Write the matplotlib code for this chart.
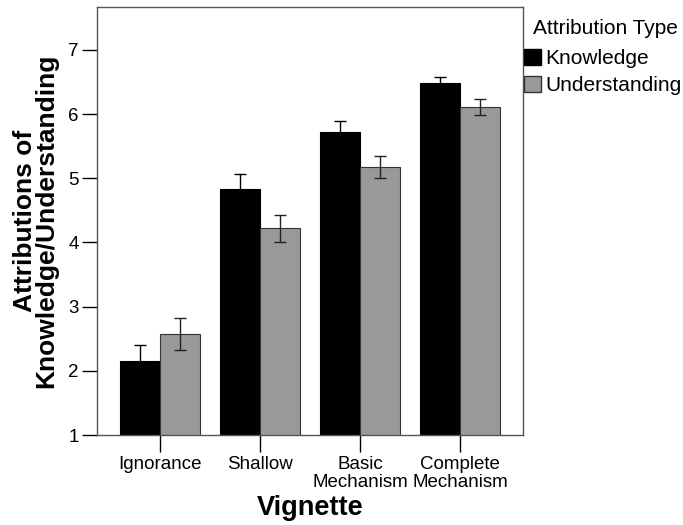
import numpy as np
import matplotlib.pyplot as plt
from matplotlib.patches import Patch

plt.rcParams['font.family'] = ['Liberation Sans', 'DejaVu Sans']

vignettes = ['Ignorance', 'Shallow', 'Basic\nMechanism', 'Complete\nMechanism']
knowledge = [2.16, 4.84, 5.72, 6.49]
knowledge_err = [0.24, 0.23, 0.18, 0.09]
understanding = [2.58, 4.22, 5.18, 6.11]
understanding_err = [0.25, 0.21, 0.17, 0.12]

fig = plt.figure(figsize=(6.83, 5.25), dpi=100)
ax = fig.add_axes([0.142, 0.1714, 0.624, 0.8153])

x = np.arange(len(vignettes))
w = 0.4
ax.bar(x - w / 2, knowledge, w, color='black', edgecolor='black',
       linewidth=0.8, yerr=knowledge_err, capsize=4,
       error_kw=dict(elinewidth=1.0, capthick=1.0, ecolor='black'), zorder=2)
ax.bar(x + w / 2, understanding, w, color='#999999', edgecolor='#333333',
       linewidth=0.8, yerr=understanding_err, capsize=4,
       error_kw=dict(elinewidth=1.0, capthick=1.0, ecolor='#222222'), zorder=2)

ax.set_ylim(1, 7.67)
ax.set_xlim(-0.63, 3.63)
ax.set_yticks([1, 2, 3, 4, 5, 6, 7])
ax.set_xticks(x)
ax.set_xticklabels(vignettes, fontsize=13.5, linespacing=1.1)
ax.tick_params(axis='y', length=11, width=1, labelsize=13.5, pad=2)
ax.tick_params(axis='x', length=12, width=1, pad=3)
for s in ax.spines.values():
    s.set_color('#555555')
    s.set_linewidth(1.0)

ax.set_ylabel('Attributions of\nKnowledge/Understanding', fontsize=19,
              fontweight='bold', linespacing=0.9, labelpad=7)
ax.set_xlabel('Vignette', fontsize=19.5, fontweight='bold', labelpad=3)

# legend title drawn separately so it can sit indented like the original
fig.text(533 / 683, 1 - 19 / 525, 'Attribution Type', fontsize=15,
         ha='left', va='top')
handles = [Patch(facecolor='black', edgecolor='black'),
           Patch(facecolor='#999999', edgecolor='#333333')]
fig.legend(handles, ['Knowledge', 'Understanding'],
           loc='upper left', bbox_to_anchor=(524 / 683, 1 - 49 / 525),
           frameon=False, fontsize=15, handlelength=0.82, handleheight=0.82,
           handletextpad=0.2, labelspacing=0.35, borderpad=0, borderaxespad=0)

fig.savefig('out.png', dpi=100)
